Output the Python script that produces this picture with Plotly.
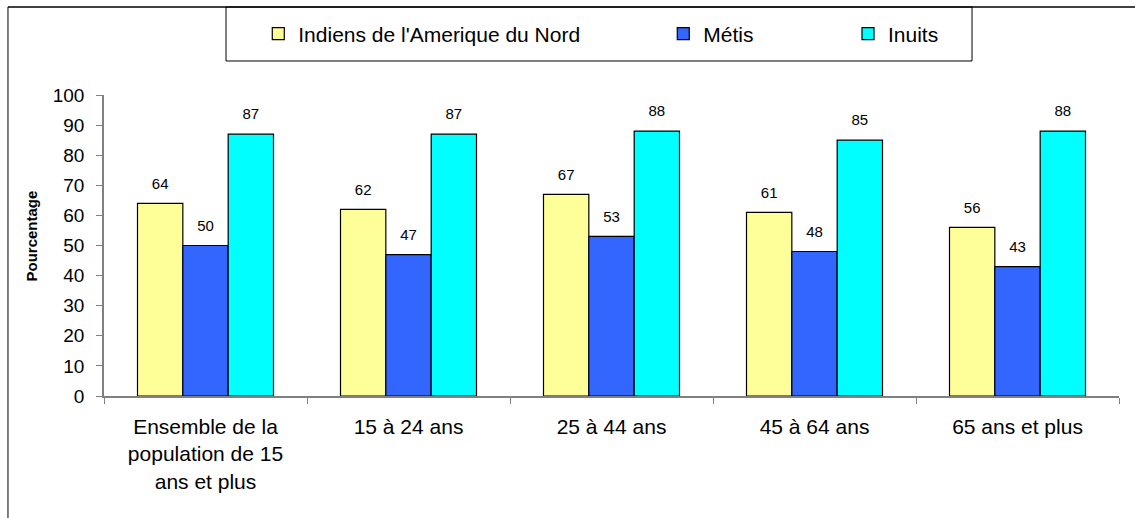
import plotly.graph_objects as go

# Categories and percentages by group
categories = [
    "Ensemble de la<br>population de 15<br>ans et plus",
    "15 à 24 ans",
    "25 à 44 ans",
    "45 à 64 ans",
    "65 ans et plus",
]
indiens = [64, 62, 67, 61, 56]
metis = [50, 47, 53, 48, 43]
inuits = [87, 87, 88, 85, 88]

series_names = ["Indiens de l'Amerique du Nord", "Métis", "Inuits"]
series_values = [indiens, metis, inuits]
series_colors = ["#FFFF99", "#3366FF", "#00FFFF"]
legend_ids = ["legend", "legend2", "legend3"]
legend_x = [0.152, 0.551, 0.733]

y_ticks = [0, 10, 20, 30, 40, 50, 60, 70, 80, 90, 100]

FONT = "Liberation Sans, Arial, sans-serif"
GAP = 0.33

fig = go.Figure()

for name, vals, color, lg in zip(series_names, series_values, series_colors, legend_ids):
    fig.add_trace(go.Bar(
        x=categories, y=vals, name=name,
        marker=dict(color=color, line=dict(color="#000000", width=1.2)),
        legend=lg,
    ))

# Value labels placed above each bar, grouped the same way as the bars
for name, vals in zip(series_names, series_values):
    fig.add_trace(go.Scatter(
        x=categories, y=vals, mode="markers+text",
        text=[str(v) for v in vals], textposition="top center",
        textfont=dict(family=FONT, size=15, color="#000000"),
        marker=dict(size=16, opacity=0),
        showlegend=False, hoverinfo="skip", cliponaxis=False,
    ))

shapes = [
    # outer frame (top and left edges)
    dict(type="line", xref="paper", yref="paper", x0=-0.0946, x1=1.02, y0=1.2924, y1=1.2924,
         line=dict(color="#404040", width=2)),
    dict(type="line", xref="paper", yref="paper", x0=-0.0946, x1=-0.0946, y0=1.2924, y1=-0.45,
         line=dict(color="#000000", width=1)),
    # legend box
    dict(type="rect", xref="paper", yref="paper", x0=0.1202, x1=0.8552, y0=1.113, y1=1.2924,
         line=dict(color="#000000", width=1), fillcolor="rgba(0,0,0,0)"),
]

legend_common = dict(
    orientation="h", yanchor="middle", xanchor="left", y=1.2027,
    font=dict(family=FONT, size=21, color="#000000"),
    bgcolor="rgba(0,0,0,0)", borderwidth=0,
)

fig.update_layout(
    width=1135, height=518,
    margin=dict(l=104, r=16, t=95, b=122),
    paper_bgcolor="#FFFFFF", plot_bgcolor="#FFFFFF",
    barmode="group", bargap=GAP, bargroupgap=0,
    scattermode="group", scattergap=GAP,
    font=dict(family=FONT, color="#000000"),
    shapes=shapes,
    legend=dict(x=legend_x[0], **legend_common),
    legend2=dict(x=legend_x[1], **legend_common),
    legend3=dict(x=legend_x[2], **legend_common),
    annotations=[dict(
        text="<b>Pourcentage</b>", textangle=-90, showarrow=False,
        xref="paper", yref="paper", x=-0.0719, y=0.53,
        xanchor="center", yanchor="middle",
        font=dict(family=FONT, size=15, color="#000000"),
    )],
    xaxis=dict(
        type="category", showline=True, linecolor="#808080", linewidth=1.5,
        ticks="outside", tickson="boundaries", ticklen=6, tickcolor="#808080",
        tickfont=dict(family=FONT, size=21, color="#000000"),
        ticklabelstandoff=11, showgrid=False, zeroline=False,
    ),
    yaxis=dict(
        range=[0, 100], tickvals=y_ticks, showline=True, linecolor="#808080", linewidth=1.5,
        ticks="outside", ticklen=6, tickcolor="#808080",
        tickfont=dict(family=FONT, size=19, color="#000000"),
        ticklabelstandoff=8,
        showgrid=False, zeroline=False,
    ),
)

fig.write_html("out.html")
